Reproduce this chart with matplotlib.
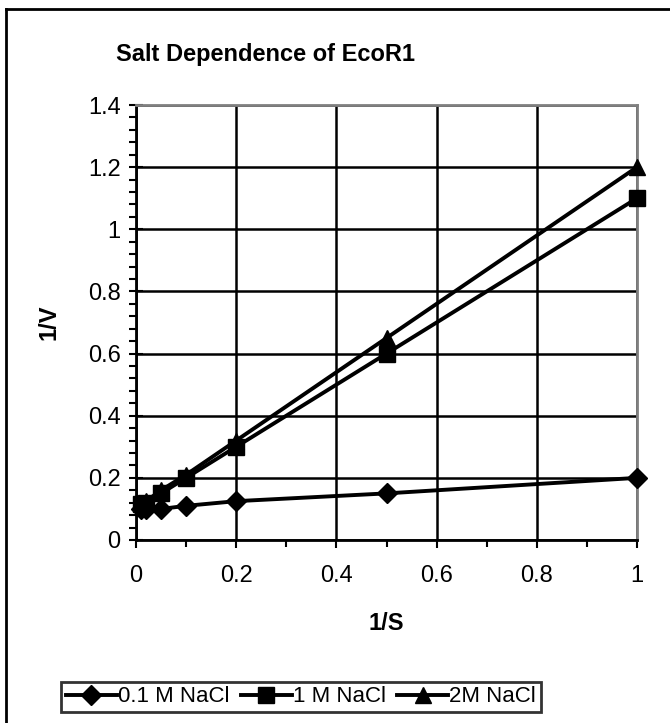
import matplotlib
matplotlib.use("Agg")
import matplotlib.pyplot as plt
from matplotlib.lines import Line2D
from matplotlib.ticker import MultipleLocator

plt.rcParams['font.family'] = ['Liberation Sans', 'DejaVu Sans']

# data
inv_s = [0.01, 0.02, 0.05, 0.1, 0.2, 0.5, 1.0]
nacl_01 = [0.10, 0.10, 0.10, 0.11, 0.125, 0.15, 0.20]
nacl_1 = [0.115, 0.12, 0.15, 0.20, 0.30, 0.60, 1.10]
nacl_2 = [0.12, 0.125, 0.16, 0.21, 0.32, 0.65, 1.20]
series_names = ['0.1 M NaCl', '1 M NaCl', '2M NaCl']
x_ticks = [0, 0.2, 0.4, 0.6, 0.8, 1.0]
x_labels = ['0', '0.2', '0.4', '0.6', '0.8', '1']
y_ticks = [0, 0.2, 0.4, 0.6, 0.8, 1.0, 1.2, 1.4]
y_labels = ['0', '0.2', '0.4', '0.6', '0.8', '1', '1.2', '1.4']

W, H = 670, 723
fig = plt.figure(figsize=(W / 100, H / 100), dpi=100)
ax = fig.add_axes([136 / W, 1 - 540 / H, (637 - 136) / W, (540 - 105) / H])

ax.plot(inv_s, nacl_01, color='black', lw=2.8, marker='D', ms=10, label=series_names[0], zorder=3, clip_on=False)
ax.plot(inv_s, nacl_1, color='black', lw=2.8, marker='s', ms=11, label=series_names[1], zorder=3, clip_on=False)
ax.plot(inv_s, nacl_2, color='black', lw=2.8, marker='^', ms=12, label=series_names[2], zorder=3, clip_on=False)

ax.set_xlim(0, 1)
ax.set_ylim(0, 1.4)
ax.set_xticks(x_ticks)
ax.set_xticklabels(x_labels)
ax.set_yticks(y_ticks)
ax.set_yticklabels(y_labels)
ax.xaxis.set_minor_locator(MultipleLocator(0.1))
ax.yaxis.set_minor_locator(MultipleLocator(0.04))
ax.grid(True, which='major', color='black', lw=1.8)
ax.set_axisbelow(True)

ax.tick_params(axis='x', which='major', direction='out', length=6, width=1.5, labelsize=17, pad=12)
ax.tick_params(axis='x', which='minor', direction='out', length=5, width=1.5)
ax.tick_params(axis='y', which='major', direction='inout', length=10, width=1.5, labelsize=17, pad=6)
ax.tick_params(axis='y', which='minor', direction='out', length=5, width=1.5)

for side in ['left', 'bottom']:
    ax.spines[side].set_color('black')
    ax.spines[side].set_linewidth(2)
for side in ['top', 'right']:
    ax.spines[side].set_color('#808080')
    ax.spines[side].set_linewidth(2)

ax.set_xlabel('1/S', fontsize=17, fontweight='bold', labelpad=18)
ax.set_ylabel('1/V', fontsize=17, fontweight='bold', labelpad=20)

fig.text(265 / W, 1 - 55 / H, 'Salt Dependence of EcoR1',
         fontsize=17, fontweight='bold', ha='center', va='center')

leg = fig.legend(loc='center', bbox_to_anchor=(301 / W, 1 - 697 / H), ncol=3,
                 fontsize=16, frameon=True, fancybox=False, edgecolor='black',
                 handlelength=2.3, handletextpad=0.05, columnspacing=0.5,
                 borderpad=0.2, borderaxespad=0)
leg.get_frame().set_linewidth(2)

# outer chart border (top and left visible)
fig.add_artist(Line2D([6 / W, 1.0], [1 - 9 / H, 1 - 9 / H], color='black', lw=2, transform=fig.transFigure))
fig.add_artist(Line2D([6 / W, 6 / W], [0, 1 - 9 / H], color='black', lw=2, transform=fig.transFigure))

fig.savefig('out.png', dpi=100)
